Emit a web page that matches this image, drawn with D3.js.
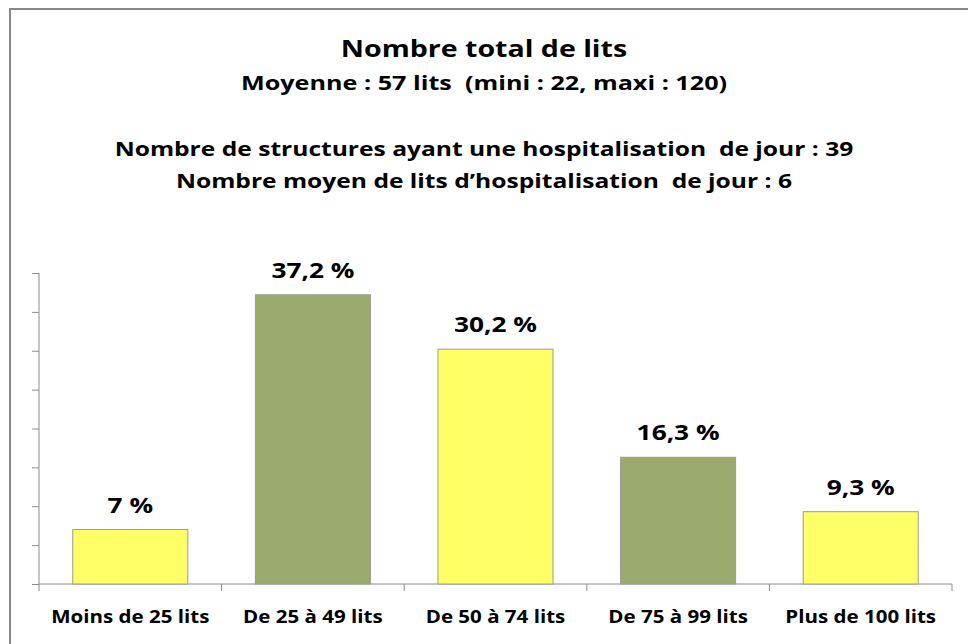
<!DOCTYPE html>
<html>
<head>
<meta charset="utf-8">
<script src="https://cdnjs.cloudflare.com/ajax/libs/d3/7.8.5/d3.min.js"></script>
<style>
    body { margin: 0; background: #fff; overflow: hidden; }
    text { font-family: "Open Sans", Lato, sans-serif; font-weight: bold; fill: #000; }
    .axis path, .axis line { stroke: #8c8c8c; }
</style>
</head>
<body>
<svg id="chart"></svg>
<script>
    // chart values
    const categories = ["Moins de 25 lits", "De 25 à 49 lits", "De 50 à 74 lits", "De 75 à 99 lits", "Plus de 100 lits"];
    const values = [7, 37.2, 30.2, 16.3, 9.3];
    const valueLabels = ["7 %", "37,2 %", "30,2 %", "16,3 %", "9,3 %"];
    const barColors = ["#ffff66", "#9bab6d", "#ffff66", "#9bab6d", "#ffff66"];
    const yTicks = [0, 5, 10, 15, 20, 25, 30, 35, 40];
    const titleLines = [
        "Nombre total de lits",
        "Moyenne : 57 lits  (mini : 22, maxi : 120)",
        "Nombre de structures ayant une hospitalisation  de jour : 39",
        "Nombre moyen de lits d\u2019hospitalisation  de jour : 6"
    ];

    const width = 968, height = 644;
    const margin = {top: 273, right: 16, bottom: 60, left: 39};

    const svg = d3.select("#chart").attr("width", width).attr("height", height);

    // frame
    svg.append("rect")
        .attr("x", 10).attr("y", 9)
        .attr("width", width + 20).attr("height", height + 20)
        .attr("fill", "#fff")
        .attr("stroke", "#888").attr("stroke-width", 2);

    const x = d3.scaleBand()
        .domain(categories)
        .range([margin.left, width - margin.right])
        .paddingInner(0.37).paddingOuter(0.185);

    const y = d3.scaleLinear()
        .domain([0, 40])
        .range([height - margin.bottom, margin.top]);

    // the original text is a bit wider than Open Sans, so stretch it horizontally
    function placeText(sel, px, py, sx) {
        sel.attr("transform", (d, i) => `translate(${px(d, i)},${py(d, i)}) scale(${sx},1)`);
    }

    // titles
    const titleY = [57, 90, 156, 188];
    const titleSize = [24, 20, 20, 20];
    const titleStretch = [1.19, 1.26, 1.23, 1.23];
    svg.append("g").selectAll("text")
        .data(titleLines)
        .join("text")
        .attr("transform", (d, i) => `translate(484,${titleY[i]}) scale(${titleStretch[i]},1)`)
        .attr("text-anchor", "middle")
        .style("font-size", (d, i) => titleSize[i] + "px")
        .style("white-space", "pre")
        .text(d => d);

    // y axis
    svg.append("g")
        .attr("class", "axis")
        .attr("transform", `translate(${margin.left},0)`)
        .call(d3.axisLeft(y).tickValues(yTicks).tickSize(7).tickFormat(""))
        .call(g => g.select(".domain").attr("d", `M0,${y(40)}V${y(0)}`));

    // x axis with ticks at category boundaries
    const bounds = d3.range(categories.length + 1)
        .map(i => margin.left + i * (width - margin.right - margin.left) / categories.length);
    const xAxis = svg.append("g").attr("class", "axis");
    xAxis.append("line")
        .attr("x1", margin.left).attr("x2", width - margin.right)
        .attr("y1", y(0)).attr("y2", y(0));
    xAxis.selectAll(".tk")
        .data(bounds)
        .join("line")
        .attr("x1", d => d).attr("x2", d => d)
        .attr("y1", y(0)).attr("y2", y(0) + 7);

    // bars
    svg.append("g").selectAll("rect")
        .data(values)
        .join("rect")
        .attr("x", (d, i) => x(categories[i]))
        .attr("y", d => y(d))
        .attr("width", x.bandwidth())
        .attr("height", d => y(0) - y(d))
        .attr("fill", (d, i) => barColors[i])
        .attr("stroke", "#9a9a9a")
        .attr("stroke-width", 1);

    // value labels
    svg.append("g").selectAll("text")
        .data(values)
        .join("text")
        .call(placeText, (d, i) => x(categories[i]) + x.bandwidth() / 2, d => y(d) - 17, 1.25)
        .attr("text-anchor", "middle")
        .style("font-size", "21px")
        .text((d, i) => valueLabels[i]);

    // category labels
    svg.append("g").selectAll("text")
        .data(categories)
        .join("text")
        .call(placeText, d => x(d) + x.bandwidth() / 2, () => 623, 1.14)
        .attr("text-anchor", "middle")
        .style("font-size", "18px")
        .text(d => d);
</script>
</body>
</html>
